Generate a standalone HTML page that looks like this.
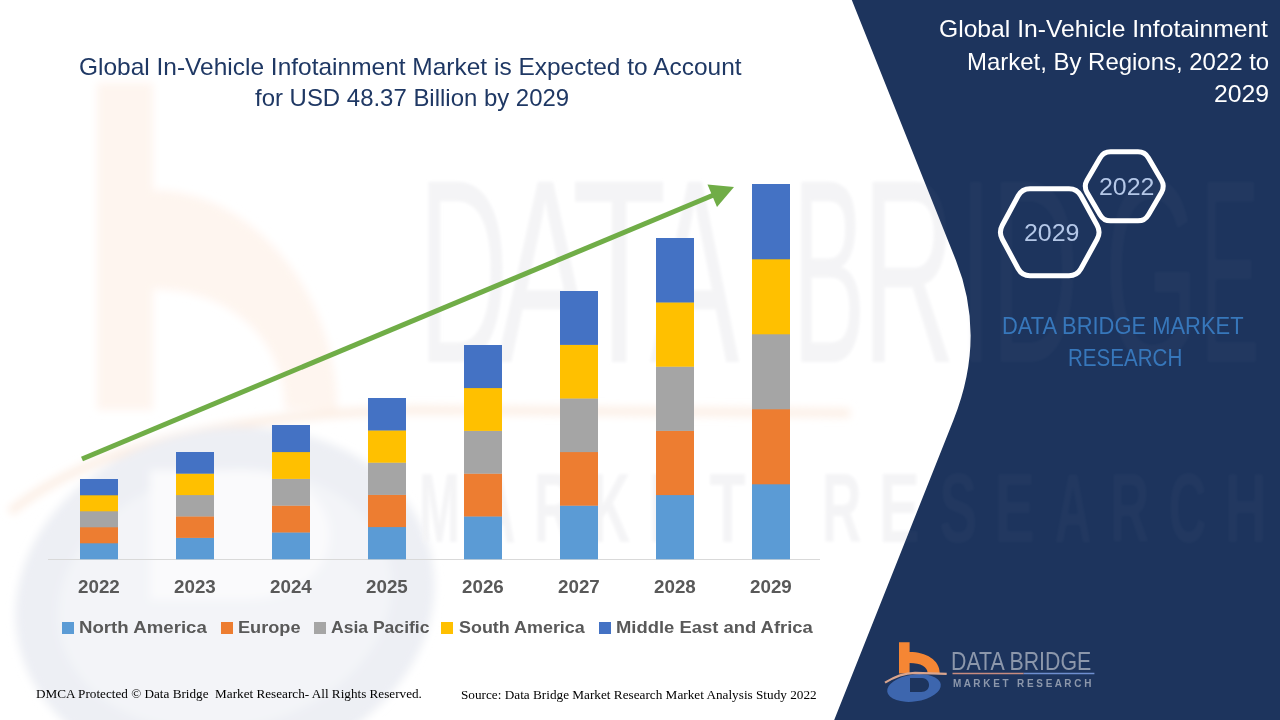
<!DOCTYPE html>
<html>
<head>
<meta charset="utf-8">
<style>
html,body{margin:0;padding:0;}
body{width:1280px;height:720px;position:relative;overflow:hidden;background:#fff;font-family:"Liberation Sans",sans-serif;}
.a{position:absolute;white-space:pre;transform-origin:0 0;}
svg.a{left:0;top:0;}
</style>
</head>
<body>
<svg class="a" width="1280" height="720" viewBox="0 0 1280 720">
  <defs>
    <clipPath id="cpw"><path d="M0,0 L851.8,0 L955.8,260 Q986.6,337 953.5,420 L834.2,720 L0,720 Z"/></clipPath>
    <clipPath id="cpn"><path d="M851.8,0 L955.8,260 Q986.6,337 953.5,420 L834.2,720 L1280,720 L1280,0 Z"/></clipPath>
    <filter id="bl" x="-10%" y="-10%" width="120%" height="120%"><feGaussianBlur stdDeviation="4"/></filter>
    <filter id="bl2" x="-5%" y="-5%" width="110%" height="110%"><feGaussianBlur stdDeviation="1.5"/></filter>
  </defs>
  <!-- watermark on white -->
  <g clip-path="url(#cpw)">
   <g filter="url(#bl)">
    <path d="M97,83 L153,83 L153,190 C250,190 337,290 337,410 L285,410 C285,340 230,289 153,289 L153,410 L97,410 Z" fill="#FEF5EF"/>
    <path d="M10,512 Q130,415 420,410 L850,413" fill="none" stroke="#FCEEE4" stroke-width="8"/>
    <ellipse cx="225" cy="600" rx="190" ry="150" transform="rotate(-12 225 600)" fill="#F3F4F8" stroke="#EDEFF4" stroke-width="42"/>
    <path d="M150,470 L240,470 C305,470 330,505 330,535 C330,570 300,600 240,600 L150,600 Z" fill="#FAFAFC"/>
   </g>
    <g fill="#F4F4F6" filter="url(#bl2)">
      <g font-family="Liberation Sans" font-size="262" font-weight="400"><text transform="translate(418.3,362) scale(0.476,1)">D</text><text transform="translate(497.0,362) scale(0.551,1)">A</text><text transform="translate(571.6,362) scale(0.594,1)">T</text><text transform="translate(650.0,362) scale(0.511,1)">A</text><text transform="translate(792.4,362) scale(0.419,1)">B</text><text transform="translate(861.9,362) scale(0.495,1)">R</text><text transform="translate(958.0,362) scale(0.489,1)">I</text><text transform="translate(990.4,362) scale(0.470,1)">D</text><text transform="translate(1104.3,362) scale(0.465,1)">G</text><text transform="translate(1200.0,362) scale(0.342,1)">E</text></g>
      <g font-family="Liberation Sans" font-size="98" font-weight="700"><text transform="translate(419.0,542) scale(0.500,1)">M</text><text transform="translate(478.6,542) scale(0.522,1)">A</text><text transform="translate(533.9,542) scale(0.556,1)">R</text><text transform="translate(591.5,542) scale(0.547,1)">K</text><text transform="translate(648.6,542) scale(0.625,1)">E</text><text transform="translate(709.4,542) scale(0.603,1)">T</text><text transform="translate(821.9,542) scale(0.556,1)">R</text><text transform="translate(879.0,542) scale(0.625,1)">E</text><text transform="translate(939.2,542) scale(0.583,1)">S</text><text transform="translate(994.2,542) scale(0.625,1)">E</text><text transform="translate(1054.6,542) scale(0.522,1)">A</text><text transform="translate(1109.9,542) scale(0.556,1)">R</text><text transform="translate(1168.6,542) scale(0.538,1)">C</text><text transform="translate(1224.8,542) scale(0.593,1)">H</text></g>
    </g>
  </g>
  <!-- dark panel -->
  <path d="M851.8,0 L955.8,260 Q986.6,337 953.5,420 L834.2,720 L1280,720 L1280,0 Z" fill="#1D345D"/>
  <g clip-path="url(#cpn)" fill="#FFFFFF" opacity="0.025">
    <g filter="url(#bl2)">
      <g font-family="Liberation Sans" font-size="262" font-weight="400"><text transform="translate(418.3,362) scale(0.476,1)">D</text><text transform="translate(497.0,362) scale(0.551,1)">A</text><text transform="translate(571.6,362) scale(0.594,1)">T</text><text transform="translate(650.0,362) scale(0.511,1)">A</text><text transform="translate(792.4,362) scale(0.419,1)">B</text><text transform="translate(861.9,362) scale(0.495,1)">R</text><text transform="translate(958.0,362) scale(0.489,1)">I</text><text transform="translate(990.4,362) scale(0.470,1)">D</text><text transform="translate(1104.3,362) scale(0.465,1)">G</text><text transform="translate(1200.0,362) scale(0.342,1)">E</text></g>
      <g font-family="Liberation Sans" font-size="98" font-weight="700"><text transform="translate(419.0,542) scale(0.500,1)">M</text><text transform="translate(478.6,542) scale(0.522,1)">A</text><text transform="translate(533.9,542) scale(0.556,1)">R</text><text transform="translate(591.5,542) scale(0.547,1)">K</text><text transform="translate(648.6,542) scale(0.625,1)">E</text><text transform="translate(709.4,542) scale(0.603,1)">T</text><text transform="translate(821.9,542) scale(0.556,1)">R</text><text transform="translate(879.0,542) scale(0.625,1)">E</text><text transform="translate(939.2,542) scale(0.583,1)">S</text><text transform="translate(994.2,542) scale(0.625,1)">E</text><text transform="translate(1054.6,542) scale(0.522,1)">A</text><text transform="translate(1109.9,542) scale(0.556,1)">R</text><text transform="translate(1168.6,542) scale(0.538,1)">C</text><text transform="translate(1224.8,542) scale(0.593,1)">H</text></g>
    </g>
  </g>
  <!-- axis -->
  <line x1="48" y1="559.5" x2="820" y2="559.5" stroke="#D9D9D9" stroke-width="1"/>
  <rect x="80" y="543.00" width="38" height="16.30" fill="#5B9BD5"/>
<rect x="80" y="527.00" width="38" height="16.30" fill="#ED7D31"/>
<rect x="80" y="511.00" width="38" height="16.30" fill="#A5A5A5"/>
<rect x="80" y="495.00" width="38" height="16.30" fill="#FFC000"/>
<rect x="80" y="479.00" width="38" height="16.30" fill="#4472C4"/>
<rect x="176" y="537.60" width="38" height="21.70" fill="#5B9BD5"/>
<rect x="176" y="516.20" width="38" height="21.70" fill="#ED7D31"/>
<rect x="176" y="494.80" width="38" height="21.70" fill="#A5A5A5"/>
<rect x="176" y="473.40" width="38" height="21.70" fill="#FFC000"/>
<rect x="176" y="452.00" width="38" height="21.70" fill="#4472C4"/>
<rect x="272" y="532.20" width="38" height="27.10" fill="#5B9BD5"/>
<rect x="272" y="505.40" width="38" height="27.10" fill="#ED7D31"/>
<rect x="272" y="478.60" width="38" height="27.10" fill="#A5A5A5"/>
<rect x="272" y="451.80" width="38" height="27.10" fill="#FFC000"/>
<rect x="272" y="425.00" width="38" height="27.10" fill="#4472C4"/>
<rect x="368" y="526.80" width="38" height="32.50" fill="#5B9BD5"/>
<rect x="368" y="494.60" width="38" height="32.50" fill="#ED7D31"/>
<rect x="368" y="462.40" width="38" height="32.50" fill="#A5A5A5"/>
<rect x="368" y="430.20" width="38" height="32.50" fill="#FFC000"/>
<rect x="368" y="398.00" width="38" height="32.50" fill="#4472C4"/>
<rect x="464" y="516.20" width="38" height="43.10" fill="#5B9BD5"/>
<rect x="464" y="473.40" width="38" height="43.10" fill="#ED7D31"/>
<rect x="464" y="430.60" width="38" height="43.10" fill="#A5A5A5"/>
<rect x="464" y="387.80" width="38" height="43.10" fill="#FFC000"/>
<rect x="464" y="345.00" width="38" height="43.10" fill="#4472C4"/>
<rect x="560" y="505.40" width="38" height="53.90" fill="#5B9BD5"/>
<rect x="560" y="451.80" width="38" height="53.90" fill="#ED7D31"/>
<rect x="560" y="398.20" width="38" height="53.90" fill="#A5A5A5"/>
<rect x="560" y="344.60" width="38" height="53.90" fill="#FFC000"/>
<rect x="560" y="291.00" width="38" height="53.90" fill="#4472C4"/>
<rect x="656" y="494.80" width="38" height="64.50" fill="#5B9BD5"/>
<rect x="656" y="430.60" width="38" height="64.50" fill="#ED7D31"/>
<rect x="656" y="366.40" width="38" height="64.50" fill="#A5A5A5"/>
<rect x="656" y="302.20" width="38" height="64.50" fill="#FFC000"/>
<rect x="656" y="238.00" width="38" height="64.50" fill="#4472C4"/>
<rect x="752" y="484.00" width="38" height="75.30" fill="#5B9BD5"/>
<rect x="752" y="409.00" width="38" height="75.30" fill="#ED7D31"/>
<rect x="752" y="334.00" width="38" height="75.30" fill="#A5A5A5"/>
<rect x="752" y="259.00" width="38" height="75.30" fill="#FFC000"/>
<rect x="752" y="184.00" width="38" height="75.30" fill="#4472C4"/>
  <!-- arrow -->
  <line x1="82" y1="459" x2="716" y2="194" stroke="#70AD47" stroke-width="5"/>
  <polygon points="734,187 707.5,184.5 717,207" fill="#70AD47"/>
  <!-- hexagons -->
  <path d="M1002.3,225.2 L1018.2,195.8 Q1022.0,188.8 1030.0,188.8 L1069.0,188.8 Q1077.0,188.8 1080.9,195.8 L1097.1,225.2 Q1101.0,232.2 1097.1,239.3 L1080.9,268.8 Q1077.0,275.8 1069.0,275.8 L1030.0,275.8 Q1022.0,275.8 1018.2,268.8 L1002.3,239.3 Q998.5,232.2 1002.3,225.2 Z" fill="none" stroke="#fff" stroke-width="5"/>
  <path d="M1087.0,180.2 L1100.0,157.9 Q1103.5,151.8 1110.5,151.8 L1138.0,151.8 Q1145.0,151.8 1148.5,157.9 L1161.5,180.2 Q1165.0,186.3 1161.5,192.4 L1148.5,214.7 Q1145.0,220.8 1138.0,220.8 L1110.5,220.8 Q1103.5,220.8 1100.0,214.7 L1087.0,192.4 Q1083.5,186.3 1087.0,180.2 Z" fill="none" stroke="#fff" stroke-width="5"/>
  <!-- logo -->
  <g>
    <ellipse cx="914" cy="688" rx="27" ry="13.5" transform="rotate(-8 914 688)" fill="#3D66AE"/>
    <path d="M910,678 L922,678 C927,678 929,682 929,685 C929,689 926,692 921,692 L910,692 Z" fill="#1D345D"/>
    <path d="M899,642.3 L909.6,642.3 L909.6,652 C926,652 939.7,660 939.7,673 L927.6,673 C927.6,667 921,663 909.6,663 L909.6,673.4 L899,673.4 Z" fill="#F58634"/>
    <path d="M885,682.7 Q900,673 915,672.8 L946.7,673.8" fill="none" stroke="#D9A58E" stroke-width="2.2"/>
    <line x1="952.5" y1="673.5" x2="1023.7" y2="673.5" stroke="#C88C80" stroke-width="1.6"/>
    <line x1="1023.7" y1="673.5" x2="1094.4" y2="673.5" stroke="#6F8FD0" stroke-width="1.6"/>
  </g>
  <!-- legend squares -->
  <rect x="62" y="622" width="12" height="12" fill="#5B9BD5"/>
  <rect x="221" y="622" width="12" height="12" fill="#ED7D31"/>
  <rect x="314" y="622" width="12" height="12" fill="#A5A5A5"/>
  <rect x="441" y="622" width="12" height="12" fill="#FFC000"/>
  <rect x="599" y="622" width="12" height="12" fill="#4472C4"/>
</svg>
<div class="a" style="left:79.14px;top:54.00px;font-family:'Liberation Sans';font-size:23.2px;line-height:26px;font-weight:400;color:#1F3864;transform:scaleX(1.0556)">Global In-Vehicle Infotainment Market is Expected to Account</div>
<div class="a" style="left:255.40px;top:85.00px;font-family:'Liberation Sans';font-size:23.2px;line-height:26px;font-weight:400;color:#1F3864;transform:scaleX(1.0327)">for USD 48.37 Billion by 2029</div>
<div class="a" style="left:939.14px;top:16.00px;font-family:'Liberation Sans';font-size:23.2px;line-height:26px;font-weight:400;color:#FFFFFF;transform:scaleX(1.0634)">Global In-Vehicle Infotainment</div>
<div class="a" style="left:966.77px;top:49.00px;font-family:'Liberation Sans';font-size:23.2px;line-height:26px;font-weight:400;color:#FFFFFF;transform:scaleX(1.0328)">Market, By Regions, 2022 to</div>
<div class="a" style="left:1213.93px;top:81.00px;font-family:'Liberation Sans';font-size:23.2px;line-height:26px;font-weight:400;color:#FFFFFF;transform:scaleX(1.0667)">2029</div>
<div class="a" style="left:1023.92px;top:220.00px;font-family:'Liberation Sans';font-size:23.0px;line-height:26px;font-weight:400;color:#B4C7E7;transform:scaleX(1.0836)">2029</div>
<div class="a" style="left:1098.92px;top:174.00px;font-family:'Liberation Sans';font-size:23.0px;line-height:26px;font-weight:400;color:#B4C7E7;transform:scaleX(1.0836)">2022</div>
<div class="a" style="left:1001.77px;top:313.00px;font-family:'Liberation Sans';font-size:23.5px;line-height:26px;font-weight:400;color:#3777BB;transform:scaleX(0.9327)">DATA BRIDGE MARKET</div>
<div class="a" style="left:1068.12px;top:345.00px;font-family:'Liberation Sans';font-size:23.5px;line-height:26px;font-weight:400;color:#3777BB;transform:scaleX(0.8755)">RESEARCH</div>
<div class="a" style="left:950.87px;top:646.00px;font-family:'Liberation Sans';font-size:26.2px;line-height:30px;font-weight:400;color:#8C97AB;transform:scaleX(0.8144)">DATA BRIDGE</div>
<div class="a" style="left:952.50px;top:678.00px;font-family:'Liberation Sans';font-size:10.3px;line-height:11px;font-weight:700;color:#8C97AB;transform:scaleX(0.9667)">M A R K E T   R E S E A R C H</div>
<div class="a" style="left:36.00px;top:686.00px;font-family:'Liberation Serif';font-size:13.4px;line-height:15px;font-weight:400;color:#000000;transform:scaleX(0.9842)">DMCA Protected © Data Bridge  Market Research- All Rights Reserved.</div>
<div class="a" style="left:461.00px;top:687.00px;font-family:'Liberation Serif';font-size:13.4px;line-height:15px;font-weight:400;color:#000000;transform:scaleX(0.9880)">Source: Data Bridge Market Research Market Analysis Study 2022</div>
<div class="a" style="left:78.90px;top:618.00px;font-family:'Liberation Sans';font-size:17.0px;line-height:19px;font-weight:700;color:#595959;transform:scaleX(1.0970)">North America</div>
<div class="a" style="left:237.93px;top:618.00px;font-family:'Liberation Sans';font-size:17.0px;line-height:19px;font-weight:700;color:#595959;transform:scaleX(1.0682)">Europe</div>
<div class="a" style="left:331.00px;top:618.00px;font-family:'Liberation Sans';font-size:17.0px;line-height:19px;font-weight:700;color:#595959;transform:scaleX(1.0317)">Asia Pacific</div>
<div class="a" style="left:459.00px;top:618.00px;font-family:'Liberation Sans';font-size:17.0px;line-height:19px;font-weight:700;color:#595959;transform:scaleX(1.0538)">South America</div>
<div class="a" style="left:615.92px;top:618.00px;font-family:'Liberation Sans';font-size:17.0px;line-height:19px;font-weight:700;color:#595959;transform:scaleX(1.0832)">Middle East and Africa</div>
<div class="a" style="left:78.00px;top:577.00px;font-family:'Liberation Sans';font-size:17.6px;line-height:20px;font-weight:700;color:#595959;transform:scaleX(1.0672)">2022</div>
<div class="a" style="left:174.00px;top:577.00px;font-family:'Liberation Sans';font-size:17.6px;line-height:20px;font-weight:700;color:#595959;transform:scaleX(1.0672)">2023</div>
<div class="a" style="left:270.00px;top:577.00px;font-family:'Liberation Sans';font-size:17.6px;line-height:20px;font-weight:700;color:#595959;transform:scaleX(1.0672)">2024</div>
<div class="a" style="left:366.00px;top:577.00px;font-family:'Liberation Sans';font-size:17.6px;line-height:20px;font-weight:700;color:#595959;transform:scaleX(1.0672)">2025</div>
<div class="a" style="left:462.00px;top:577.00px;font-family:'Liberation Sans';font-size:17.6px;line-height:20px;font-weight:700;color:#595959;transform:scaleX(1.0672)">2026</div>
<div class="a" style="left:558.00px;top:577.00px;font-family:'Liberation Sans';font-size:17.6px;line-height:20px;font-weight:700;color:#595959;transform:scaleX(1.0672)">2027</div>
<div class="a" style="left:654.00px;top:577.00px;font-family:'Liberation Sans';font-size:17.6px;line-height:20px;font-weight:700;color:#595959;transform:scaleX(1.0672)">2028</div>
<div class="a" style="left:750.00px;top:577.00px;font-family:'Liberation Sans';font-size:17.6px;line-height:20px;font-weight:700;color:#595959;transform:scaleX(1.0672)">2029</div>
</body>
</html>
